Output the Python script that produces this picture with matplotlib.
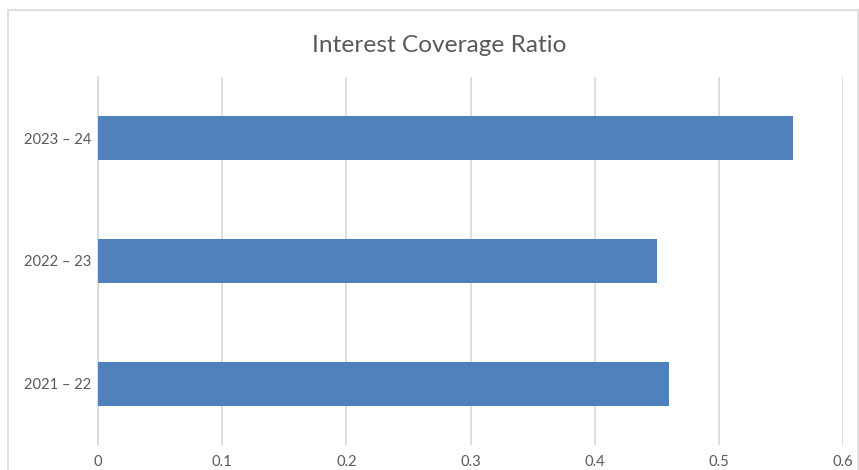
import matplotlib
matplotlib.use("Agg")
import matplotlib.pyplot as plt
from matplotlib.patches import Rectangle

periods = ["2021 – 22", "2022 – 23", "2023 – 24"]
ratios = [0.46, 0.45, 0.56]
x_ticks = [0, 0.1, 0.2, 0.3, 0.4, 0.5, 0.6]
x_tick_labels = ["0", "0.1", "0.2", "0.3", "0.4", "0.5", "0.6"]

plt.rcParams["font.family"] = ["Lato", "DejaVu Sans"]

W, H = 859, 470
fig = plt.figure(figsize=(W / 100, H / 100), dpi=100)

# chart-area frame
fig.patches.append(Rectangle((7.5 / W, -0.1), (858 - 7.5) / W, 1.1 - 10.5 / H,
                             transform=fig.transFigure, fill=False,
                             edgecolor="#D9D9D9", linewidth=1.2))

left, right, top, bottom = 98, 843, 77, 445
ax = fig.add_axes([left / W, 1 - bottom / H, (right - left) / W, (bottom - top) / H])

pos = range(len(periods))
ax.barh(list(pos), ratios, height=0.36, color="#4F81BD", zorder=3)

ax.set_xlim(0, 0.6)
ax.set_ylim(-0.5, len(periods) - 0.5)
ax.set_xticks(x_ticks)
ax.set_xticklabels(x_tick_labels)
ax.set_yticks(list(pos))
ax.set_yticklabels(periods)

ax.grid(axis="x", color="#D9D9D9", linewidth=1.2, zorder=0)
ax.grid(axis="y", visible=False)
for s in ("top", "right", "bottom"):
    ax.spines[s].set_visible(False)
ax.spines["left"].set_color("#D9D9D9")
ax.spines["left"].set_linewidth(1.2)
ax.tick_params(axis="both", length=0, labelsize=10.6, labelcolor="#595959")
ax.tick_params(axis="x", pad=7)
ax.tick_params(axis="y", pad=5)

fig.text((W / 2 + 10) / W, 1 - 45.5 / H, "Interest Coverage Ratio", ha="center", va="center",
         fontsize=17.6, color="#595959")

fig.savefig("out.png", dpi=100)
